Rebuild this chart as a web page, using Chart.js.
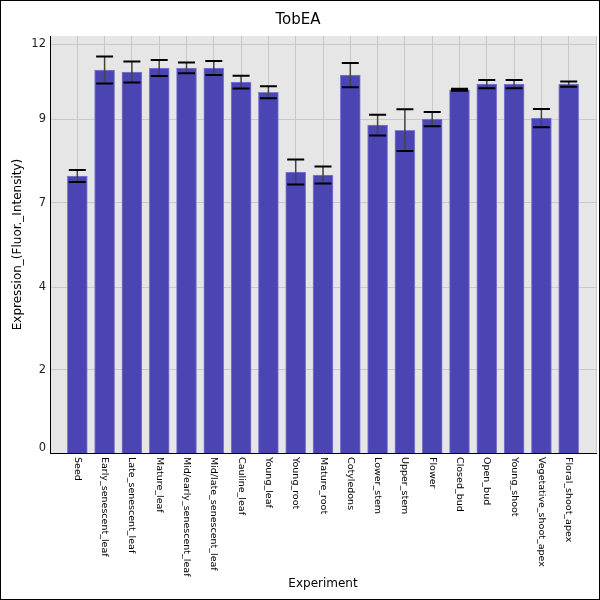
<!DOCTYPE html>
<html>
<head>
<meta charset="utf-8">
<title>TobEA</title>
<script src="https://cdn.jsdelivr.net/npm/chart.js@4/dist/chart.umd.min.js"></script>
<style>
    html, body { margin: 0; padding: 0; background: #fff; }
    #wrap { width: 600px; height: 600px; }
</style>
</head>
<body>
<div id="wrap"><canvas id="chart" width="600" height="600"></canvas></div>
<script>
// TobEA expression per tissue

const categories = [
    'Seed', 'Early_senescent_leaf', 'Late_senescent_leaf', 'Mature_leaf',
    'Mid/early_senescent_leaf', 'Mid/late_senescent_leaf', 'Cauline_leaf',
    'Young_leaf', 'Young_root', 'Mature_root', 'Cotyledons', 'Lower_stem',
    'Upper_stem', 'Flower', 'Closed_bud', 'Open_bud', 'Young_shoot',
    'Vegetative_shoot_apex', 'Floral_shoot_apex'
];

const expression = [
    8.08, 11.23, 11.17, 11.29, 11.29, 11.29, 10.87, 10.57, 8.20, 8.11,
    11.08, 9.59, 9.44, 9.77, 10.64, 10.81, 10.81, 9.80, 10.81
];

const errors = [
    0.18, 0.40, 0.31, 0.24, 0.16, 0.21, 0.19, 0.18, 0.37, 0.25,
    0.36, 0.31, 0.62, 0.21, 0.03, 0.12, 0.12, 0.27, 0.08
];

// the source axis puts its ticks at odd values and truncates the labels
const yTickValues = [0, 2.32, 4.78, 7.28, 9.77, 12];
const yTickLabels = ['0', '2', '4', '7', '9', '12'];

const Y_MIN = -0.15;
const Y_MAX = 12.24;
const FONT = "'DejaVu Sans', sans-serif";

const plotBackground = {
    id: 'plotBackground',
    beforeDraw(chart) {
        const { ctx, chartArea: a } = chart;
        ctx.save();
        ctx.fillStyle = '#fff';
        ctx.fillRect(0, 0, chart.width, chart.height);
        ctx.fillStyle = '#e6e6e6';
        ctx.fillRect(a.left, a.top, a.right - a.left, a.bottom - a.top);
        ctx.restore();
    }
};

const errorBars = {
    id: 'errorBars',
    afterDatasetsDraw(chart) {
        const ctx = chart.ctx;
        const yScale = chart.scales.y;
        const meta = chart.getDatasetMeta(0);
        ctx.save();
        meta.data.forEach((bar, i) => {
            const x = bar.x;
            const top = yScale.getPixelForValue(expression[i] + errors[i]);
            const bottom = yScale.getPixelForValue(expression[i] - errors[i]);
            ctx.strokeStyle = '#444';
            ctx.lineWidth = 1.5;
            ctx.beginPath();
            ctx.moveTo(x, top);
            ctx.lineTo(x, bottom);
            ctx.stroke();
            ctx.strokeStyle = '#000';
            ctx.lineWidth = 2;
            ctx.beginPath();
            ctx.moveTo(x - 8.5, top);
            ctx.lineTo(x + 8.5, top);
            ctx.moveTo(x - 8.5, bottom);
            ctx.lineTo(x + 8.5, bottom);
            ctx.stroke();
        });
        ctx.restore();
    }
};

// category names read top-to-bottom under each bar
const xLabels = {
    id: 'xLabels',
    afterDraw(chart) {
        const ctx = chart.ctx;
        const xScale = chart.scales.x;
        ctx.save();
        ctx.fillStyle = '#000';
        ctx.font = '9.5px ' + FONT;
        ctx.textAlign = 'left';
        ctx.textBaseline = 'middle';
        categories.forEach((name, i) => {
            ctx.save();
            ctx.translate(xScale.getPixelForValue(i), xScale.top + 4);
            ctx.rotate(Math.PI / 2);
            ctx.fillText(name, 0, 0);
            ctx.restore();
        });
        // outer frame
        ctx.strokeStyle = '#000';
        ctx.lineWidth = 1;
        ctx.strokeRect(0.5, 0.5, chart.width - 1, chart.height - 1);
        ctx.restore();
    }
};

new Chart(document.getElementById('chart'), {
    type: 'bar',
    data: {
        datasets: [{
            data: expression.map((v, i) => ({ x: i, y: v })),
            backgroundColor: 'rgb(74, 69, 178)',
            borderColor: 'rgb(128, 126, 208)',
            borderWidth: 1,
            borderSkipped: 'bottom',
            barThickness: 20,
            base: Y_MIN
        }]
    },
    options: {
        responsive: false,
        animation: false,
        layout: { padding: { left: 0, right: 4, top: 0, bottom: 0 } },
        plugins: {
            legend: { display: false },
            tooltip: { enabled: false },
            title: {
                display: true,
                text: 'TobEA',
                color: '#000',
                font: { family: FONT, size: 15, weight: 'normal' },
                padding: { top: 11, bottom: 7 }
            }
        },
        scales: {
            x: {
                type: 'linear',
                min: -1,
                max: 19,
                offset: false,
                ticks: { stepSize: 1, display: false },
                grid: { color: '#c8c8c8', lineWidth: 1, drawTicks: false, offset: false },
                border: { display: true, color: '#000', width: 1 },
                title: {
                    display: true,
                    text: 'Experiment',
                    color: '#000',
                    font: { family: FONT, size: 12 },
                    padding: { top: 0, bottom: 8.8 }
                },
                afterFit(scale) { scale.height = 147; }
            },
            y: {
                type: 'linear',
                min: Y_MIN,
                max: Y_MAX,
                bounds: 'data',
                afterBuildTicks(scale) {
                    scale.ticks = yTickValues.map(v => ({ value: v }));
                },
                ticks: {
                    color: '#222',
                    padding: 4,
                    font: { family: FONT, size: 11.5 },
                    callback: (value, index) => yTickLabels[index]
                },
                grid: {
                    color: ctx => (ctx.tick && ctx.tick.value === 0) ? 'rgba(0,0,0,0)' : '#c8c8c8',
                    lineWidth: 1,
                    drawTicks: false
                },
                border: { display: true, color: '#000', width: 1 },
                title: {
                    display: true,
                    text: 'Expression_(Fluor._Intensity)',
                    color: '#000',
                    font: { family: FONT, size: 12 },
                    padding: { top: 10.8, bottom: 0 }
                },
                afterFit(scale) { scale.width = 50; }
            }
        }
    },
    plugins: [plotBackground, errorBars, xLabels]
});
</script>
</body>
</html>
